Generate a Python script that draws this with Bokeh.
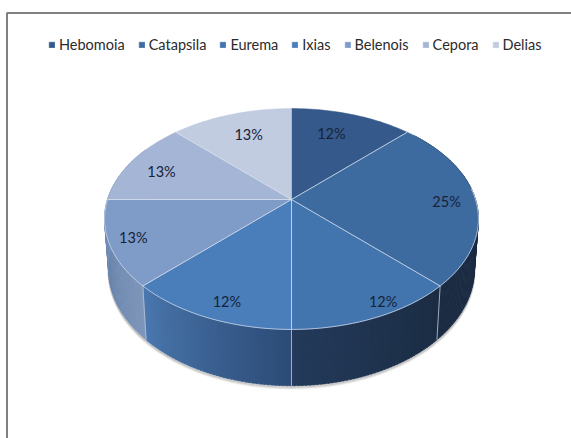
import math
from bokeh.plotting import figure
from bokeh.models import Legend, LegendItem
from bokeh.core.properties import value
from bokeh.embed import file_html
from bokeh.resources import INLINE

# data
categories = ["Hebomoia", "Catapsila", "Eurema", "Ixias", "Belenois", "Cepora", "Delias"]
shares = [12.5, 25, 12.5, 12.5, 12.5, 12.5, 12.5]
labels = ["12%", "25%", "12%", "12%", "13%", "13%", "13%"]
colors = ["#35598a", "#3d6a9f", "#4274ae", "#4a7ebb", "#7f9bc8", "#a5b5d5", "#c1cce0"]

# label placement inside the disc: fraction of radius and clock angle
label_r = [0.733, 0.84, 0.92, 0.87, 0.875, 0.79, 0.728]
label_a = [19.4, 91.3, 152.4, 200.2, 247.6, 290.3, 339.0]

# wall shading: clock angle, colour
wall_stops = [(45, "#1b2d44"), (135, "#1b2c43"), (180, "#233a5a"), (180.01, "#2c4b76"),
              (225, "#4a77ae"), (225.01, "#7e96ba"), (250, "#6a85ac"), (272, "#7693bd")]

W, H = 571, 438
CX = 291
TOP = dict(cy=199, A=107, B=184, k=0.1765)
BOT = dict(cy=248, A=113, B=180, k=0.1765)


def project(deg, r=1.0, d=TOP):
    t = math.radians(deg)
    X, Y = r * math.sin(t), r * math.cos(t)
    q = 1 + d["k"] * Y
    return CX + d["B"] * X / q, d["cy"] - d["A"] * Y / q


def hex2rgb(c):
    return tuple(int(c[i:i + 2], 16) for i in (1, 3, 5))


def wall_color(a):
    for (a0, c0), (a1, c1) in zip(wall_stops, wall_stops[1:]):
        if a0 <= a <= a1:
            f = (a - a0) / (a1 - a0)
            r0, r1 = hex2rgb(c0), hex2rgb(c1)
            return "#%02x%02x%02x" % tuple(round(u + (v - u) * f) for u, v in zip(r0, r1))
    return wall_stops[-1][1]


p = figure(width=W, height=H, x_range=(0, W), y_range=(H, 0), output_backend="svg",
           toolbar_location=None, min_border=0, outline_line_color=None,
           margin=(0, 0, 0, 0))
p.axis.visible = False
p.grid.visible = False
p.background_fill_color = "white"
p.border_fill_color = "white"

# chart frame (open to the right and the bottom)
p.line([6.5, 6.5, W + 2], [H + 2, 12.5, 12.5], line_color="#808080", line_width=2)

# soft shadow under the wall
arc = list(range(60, 301, 2))
for off, alpha in [(3, 0.08), (2, 0.14), (1, 0.22)]:
    pts = [project(a, 1, BOT) for a in arc]
    p.line([x for x, _ in pts], [y + off for _, y in pts], line_color="#555555",
           line_alpha=alpha, line_width=2)

# wall strips
xs, ys, cs = [], [], []
step = 1.0
a = 48.0
while a < 300:
    t0, t1 = project(a), project(a + step + 0.3)
    b0, b1 = project(a, 1, BOT), project(a + step + 0.3, 1, BOT)
    xs.append([t0[0], t1[0], b1[0], b0[0]])
    ys.append([t0[1], t1[1], b1[1], b0[1]])
    cs.append(wall_color(a + step / 2))
    a += step
p.patches(xs, ys, fill_color=cs, line_color=cs, line_width=0.6)

# top slices
edges = [0.0]
for s in shares:
    edges.append(edges[-1] + s / sum(shares) * 360)

renderers = []
for i in range(len(categories)):
    n = max(2, int((edges[i + 1] - edges[i]) / 1.5))
    outline = [project(edges[i] + (edges[i + 1] - edges[i]) * j / n) for j in range(n + 1)]
    r = p.patch([CX] + [q[0] for q in outline], [TOP["cy"]] + [q[1] for q in outline],
                fill_color=colors[i], line_color=colors[i], line_width=0.5)
    renderers.append(r)

# rim highlight on the front edge
front = [project(a) for a in range(84, 272, 2)]
p.line([q[0] for q in front], [q[1] for q in front], line_color="#c9d6e8", line_alpha=0.8, line_width=1)

# slice dividers and wall seams
for i in range(1, len(categories)):
    e = project(edges[i])
    p.line([CX, e[0]], [TOP["cy"], e[1]], line_color="#d5deec", line_alpha=0.85, line_width=1)
    if 90 < edges[i] < 270:
        b = project(edges[i], 1, BOT)
        p.line([e[0], b[0]], [e[1], b[1]], line_color="#b4c2d6", line_alpha=0.85, line_width=1)

# value labels
lx, ly = [], []
for rr, aa in zip(label_r, label_a):
    q = project(aa, rr)
    lx.append(q[0])
    ly.append(q[1])
p.text(lx, ly, text=labels, text_font=value("Lato"), text_font_size="14.5px",
       text_color="#16233a", text_align="center", text_baseline="middle")

# legend
legend = Legend(items=[LegendItem(label=c, renderers=[r]) for c, r in zip(categories, renderers)],
                orientation="horizontal", location=(48, 385), padding=0, margin=0, spacing=13,
                glyph_width=7, glyph_height=7, label_standoff=4, border_line_color=None,
                background_fill_alpha=0, label_text_font="Lato",
                label_text_font_size="14.5px", label_text_color="#2b2b2b",
                label_height=16)
p.add_layout(legend)

open("out.html", "w").write(file_html(p, INLINE))
